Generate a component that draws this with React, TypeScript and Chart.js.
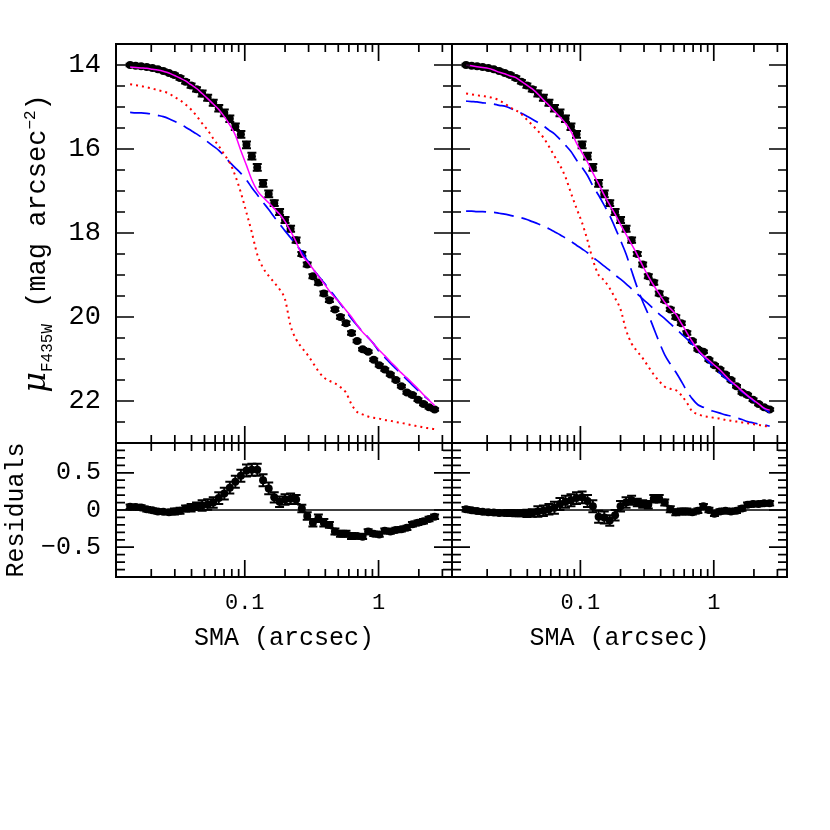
import React, { useEffect, useRef } from 'react';
import { Chart, registerables } from 'chart.js';

Chart.register(...registerables);

// ---------------- data ----------------
const SMA = [
  0.0139, 0.0153, 0.0168, 0.0185, 0.0204, 0.0224, 0.0246, 0.0271, 0.0298, 0.0328,
  0.0361, 0.0397, 0.0436, 0.0480, 0.0528, 0.0581, 0.0639, 0.0703, 0.0773, 0.0850,
  0.0935, 0.103, 0.113, 0.124, 0.137, 0.151, 0.166, 0.182, 0.200, 0.220,
  0.242, 0.267, 0.293, 0.323, 0.355, 0.390, 0.429, 0.472, 0.519, 0.571,
  0.628, 0.691, 0.760, 0.836, 0.920, 1.012, 1.113, 1.224, 1.347, 1.481,
  1.629, 1.792, 1.971, 2.168, 2.385, 2.624,
];

const MU_DATA = [
  14.00, 14.02, 14.03, 14.05, 14.07, 14.10, 14.14, 14.19, 14.24, 14.31,
  14.40, 14.49, 14.58, 14.68, 14.78, 14.90, 15.03, 15.14, 15.28, 15.47,
  15.65, 15.90, 16.17, 16.44, 16.82, 17.07, 17.29, 17.50, 17.69, 17.90,
  18.17, 18.50, 18.75, 19.03, 19.18, 19.44, 19.60, 19.82, 20.00, 20.15,
  20.38, 20.57, 20.77, 20.83, 21.02, 21.15, 21.25, 21.37, 21.50, 21.65,
  21.80, 21.86, 21.97, 22.07, 22.15, 22.20,
];

const MU_ERR = [
  0.03, 0.03, 0.03, 0.03, 0.03, 0.03, 0.03, 0.03, 0.04, 0.04,
  0.04, 0.05, 0.05, 0.07, 0.07, 0.07, 0.08, 0.08, 0.08, 0.08,
  0.08, 0.08, 0.08, 0.08, 0.08, 0.08, 0.07, 0.07, 0.07, 0.07,
  0.06, 0.05, 0.05, 0.05, 0.05, 0.05, 0.04, 0.04, 0.04, 0.04,
  0.04, 0.03, 0.03, 0.03, 0.03, 0.03, 0.03, 0.03, 0.03, 0.03,
  0.03, 0.03, 0.03, 0.03, 0.03, 0.03,
];

// left fit: total (magenta), bulge (red dotted), disk (blue dashed)
const LEFT_TOTAL = [
  14.05, 14.06, 14.07, 14.08, 14.10, 14.12, 14.15, 14.19, 14.25, 14.31,
  14.38, 14.47, 14.56, 14.68, 14.80, 14.93, 15.06, 15.23, 15.43, 15.67,
  16.04, 16.39, 16.74, 16.99, 17.15, 17.28, 17.42, 17.55, 17.73, 17.96,
  18.21, 18.52, 18.68, 18.85, 19.03, 19.20, 19.38, 19.54, 19.67, 19.84,
  20.00, 20.19, 20.36, 20.49, 20.64, 20.79, 20.92, 21.06, 21.19, 21.33,
  21.45, 21.58, 21.71, 21.85, 21.98, 22.11,
];
const LEFT_BULGE = [
  14.46, 14.48, 14.50, 14.53, 14.56, 14.60, 14.63, 14.68, 14.76, 14.84,
  14.94, 15.06, 15.21, 15.39, 15.55, 15.75, 15.93, 16.13, 16.33, 16.64,
  17.04, 17.52, 17.99, 18.51, 18.83, 19.02, 19.18, 19.34, 19.58, 20.21,
  20.53, 20.73, 20.89, 21.09, 21.29, 21.44, 21.52, 21.58, 21.67, 21.80,
  22.08, 22.26, 22.32, 22.37, 22.40, 22.42, 22.45, 22.47, 22.50, 22.52,
  22.55, 22.58, 22.60, 22.63, 22.65, 22.67,
];
const LEFT_DISK = [
  15.13, 15.14, 15.14, 15.15, 15.17, 15.20, 15.23, 15.28, 15.34, 15.41,
  15.48, 15.56, 15.64, 15.73, 15.83, 15.93, 16.03, 16.17, 16.32, 16.45,
  16.58, 16.74, 16.92, 17.09, 17.27, 17.44, 17.62, 17.78, 17.95, 18.11,
  18.28, 18.45, 18.65, 18.85, 19.02, 19.18, 19.35, 19.51, 19.69, 19.86,
  20.04, 20.20, 20.35, 20.49, 20.64, 20.83, 20.96, 21.10, 21.23, 21.36,
  21.49, 21.62, 21.75, 21.87, 21.98, null,
];

// right fit: total (magenta), bulge (red dotted), inner + outer components (blue dashed)
const RIGHT_TOTAL = [
  14.00, 14.02, 14.04, 14.06, 14.08, 14.12, 14.17, 14.21, 14.26, 14.30,
  14.39, 14.48, 14.57, 14.69, 14.83, 14.96, 15.10, 15.24, 15.39, 15.58,
  15.86, 16.09, 16.31, 16.57, 16.83, 17.10, 17.33, 17.55, 17.80, 18.03,
  18.27, 18.52, 18.78, 19.03, 19.25, 19.45, 19.65, 19.80, 19.93, 20.15,
  20.37, 20.59, 20.78, 20.92, 21.03, 21.15, 21.26, 21.40, 21.53, 21.64,
  21.76, 21.87, 21.97, 22.07, 22.17, 22.22,
];
const RIGHT_BULGE = [
  14.68, 14.70, 14.72, 14.74, 14.76, 14.79, 14.84, 14.92, 15.01, 15.08,
  15.17, 15.30, 15.43, 15.57, 15.73, 15.94, 16.17, 16.39, 16.67, 17.05,
  17.41, 17.76, 18.17, 18.64, 19.00, 19.13, 19.32, 19.55, 19.82, 20.31,
  20.63, 20.82, 20.98, 21.18, 21.37, 21.53, 21.66, 21.71, 21.74, 21.86,
  22.04, 22.25, 22.31, 22.36, 22.38, 22.40, 22.42, 22.45, 22.47, 22.49,
  22.51, 22.53, 22.55, 22.57, 22.59, 22.62,
];
const RIGHT_INNER = [
  14.86, 14.87, 14.88, 14.90, 14.91, 14.93, 14.96, 14.98, 15.03, 15.09,
  15.15, 15.22, 15.29, 15.37, 15.45, 15.55, 15.64, 15.77, 15.91, 16.06,
  16.26, 16.44, 16.63, 16.88, 17.10, 17.34, 17.59, 17.87, 18.18, 18.50,
  18.90, 19.30, 19.63, 19.94, 20.27, 20.60, 20.90, 21.12, 21.31, 21.53,
  21.76, 21.95, 22.09, 22.15, 22.21, 22.25, 22.29, 22.33, 22.36, 22.40,
  22.44, 22.49, 22.52, 22.55, 22.57, 22.60,
];
const RIGHT_OUTER = [
  17.48, 17.48, 17.49, 17.49, 17.50, 17.51, 17.53, 17.55, 17.58, 17.61,
  17.64, 17.68, 17.73, 17.78, 17.84, 17.90, 17.97, 18.04, 18.12, 18.20,
  18.29, 18.38, 18.47, 18.58, 18.68, 18.79, 18.89, 19.00, 19.10, 19.21,
  19.33, 19.45, 19.57, 19.69, 19.81, 19.93, 20.04, 20.16, 20.28, 20.40,
  20.52, 20.65, 20.80, 20.94, 21.08, 21.21, 21.34, 21.46, 21.56, 21.67,
  21.78, 21.88, 21.99, 22.09, 22.18, 22.28,
];

const RES_LEFT = [
  0.045, 0.04, 0.035, 0.01, -0.005, -0.02, -0.025, -0.03, -0.02, -0.01,
  0.02, 0.03, 0.05, 0.06, 0.075, 0.10, 0.16, 0.22, 0.30, 0.38,
  0.46, 0.53, 0.54, 0.54, 0.40, 0.29, 0.17, 0.11, 0.14, 0.15,
  0.14, 0.02, -0.08, -0.17, -0.11, -0.17, -0.20, -0.29, -0.32, -0.32,
  -0.35, -0.35, -0.36, -0.29, -0.32, -0.33, -0.28, -0.29, -0.27, -0.26,
  -0.24, -0.19, -0.17, -0.15, -0.12, -0.09,
];
const RES_RIGHT = [
  0.01, -0.005, -0.015, -0.025, -0.03, -0.035, -0.04, -0.04, -0.04, -0.045,
  -0.045, -0.045, -0.04, -0.02, -0.01, 0.01, 0.03, 0.08, 0.11, 0.13,
  0.16, 0.17, 0.12, 0.05, -0.09, -0.10, -0.14, -0.07, 0.05, 0.10,
  0.13, 0.10, 0.08, 0.07, 0.15, 0.15, 0.10, 0.01, -0.03, -0.02,
  -0.02, -0.03, -0.01, 0.05, 0.00, -0.05, -0.02, -0.01, -0.02, -0.01,
  0.02, 0.07, 0.08, 0.08, 0.09, 0.09,
];

// ---------------- axes ----------------
const X_MIN = 0.0109;
const X_MAX = 3.54;
const X_TICKS = [0.1, 1];
const X_MINOR = [0.02, 0.03, 0.04, 0.05, 0.06, 0.07, 0.08, 0.09, 0.2, 0.3, 0.4, 0.5, 0.6, 0.7, 0.8, 0.9, 2, 3];
const MU_MIN = 13.5;
const MU_MAX = 23;
const MU_TICKS = [14, 16, 18, 20, 22];
const MU_MINOR = [14.5, 15, 15.5, 16.5, 17, 17.5, 18.5, 19, 19.5, 20.5, 21, 21.5, 22.5];
const RES_MIN = -0.9;
const RES_MAX = 0.9;
const RES_TICKS = [0.5, 0, -0.5];
const RES_MINOR = [-0.8, -0.7, -0.6, -0.4, -0.3, -0.2, -0.1, 0.1, 0.2, 0.3, 0.4, 0.6, 0.7, 0.8];

const FONT = '"Liberation Mono", "DejaVu Sans Mono", monospace';
const MAGENTA = '#ff00ff';
const RED = '#ff0000';
const BLUE = '#0000ff';

// ---------------- plugins ----------------
const errorBarPlugin = {
  id: 'errorBars',
  beforeDatasetDraw(chart: any, args: any) {
    const ds = chart.data.datasets[args.index];
    if (!ds.errors) return;
    const xs = chart.scales.x;
    const ys = chart.scales.y;
    const a = chart.chartArea;
    const ctx = chart.ctx;
    ctx.save();
    ctx.beginPath();
    ctx.rect(a.left, a.top, a.right - a.left, a.bottom - a.top);
    ctx.clip();
    ctx.strokeStyle = '#000';
    ctx.lineWidth = 2;
    ds.data.forEach((p: any, i: number) => {
      const e = ds.errors[i];
      const px = xs.getPixelForValue(p.x);
      const y1 = ys.getPixelForValue(p.y - e);
      const y2 = ys.getPixelForValue(p.y + e);
      ctx.beginPath();
      ctx.moveTo(px, y1);
      ctx.lineTo(px, y2);
      ctx.moveTo(px - 4.5, y1);
      ctx.lineTo(px + 4.5, y1);
      ctx.moveTo(px - 4.5, y2);
      ctx.lineTo(px + 4.5, y2);
      ctx.stroke();
    });
    ctx.restore();
  },
};

function drawMuTitle(ctx: CanvasRenderingContext2D, cx: number, cy: number) {
  const parts = [
    { t: 'μ', font: 'italic 32px "DejaVu Serif"', dy: 0 },
    { t: 'F435W', font: `16px ${FONT}`, dy: 7 },
    { t: ' (mag arcsec', font: `27px ${FONT}`, dy: 0 },
    { t: '−2', font: `16px ${FONT}`, dy: -10 },
    { t: ')', font: `27px ${FONT}`, dy: 0 },
  ];
  ctx.save();
  ctx.translate(cx, cy);
  ctx.rotate(-Math.PI / 2);
  ctx.fillStyle = '#000';
  ctx.textAlign = 'left';
  ctx.textBaseline = 'alphabetic';
  const widths = parts.map((p) => {
    ctx.font = p.font;
    return ctx.measureText(p.t).width;
  });
  const total = widths.reduce((s, w) => s + w, 0);
  let x = -total / 2;
  parts.forEach((p, i) => {
    ctx.font = p.font;
    ctx.fillText(p.t, x, p.dy);
    x += widths[i];
  });
  ctx.restore();
}

const framePlugin = {
  id: 'frameTicks',
  afterDraw(chart: any, _args: any, opts: any) {
    const { left, right, top, bottom } = chart.chartArea;
    const xs = chart.scales.x;
    const ys = chart.scales.y;
    const ctx = chart.ctx;
    ctx.save();
    ctx.strokeStyle = '#000';
    ctx.lineWidth = 1.7;
    ctx.beginPath();
    const xTick = (v: number, len: number) => {
      const px = xs.getPixelForValue(v);
      ctx.moveTo(px, top);
      ctx.lineTo(px, top + len);
      ctx.moveTo(px, bottom);
      ctx.lineTo(px, bottom - len);
    };
    const yTick = (v: number, len: number) => {
      const py = ys.getPixelForValue(v);
      ctx.moveTo(left, py);
      ctx.lineTo(left + len, py);
      ctx.moveTo(right, py);
      ctx.lineTo(right - len, py);
    };
    X_TICKS.forEach((v) => xTick(v, 17));
    X_MINOR.forEach((v) => xTick(v, 8));
    (opts.yMajor || []).forEach((v: number) => yTick(v, 18));
    (opts.yMinor || []).forEach((v: number) => yTick(v, 9));
    ctx.stroke();
    ctx.lineWidth = 2;
    ctx.strokeRect(left, top, right - left, bottom - top);
    ctx.restore();
    if (opts.muTitle) drawMuTitle(ctx, 45, (top + bottom) / 2);
  },
};

// ---------------- builders ----------------
function pts(ys: (number | null)[]) {
  const out: any[] = [];
  SMA.forEach((x, i) => {
    const y = ys[i];
    if (y !== null && y !== undefined) out.push({ x, y });
  });
  return out;
}

function lineDS(ys: (number | null)[], color: string, dash: number[], width: number) {
  return {
    data: pts(ys),
    showLine: true,
    borderColor: color,
    backgroundColor: color,
    borderWidth: width,
    borderDash: dash,
    pointRadius: 0,
    pointHoverRadius: 0,
    fill: false,
    cubicInterpolationMode: 'monotone',
    order: 0,
  };
}

function dataDS(ys: number[]) {
  return {
    data: pts(ys),
    showLine: false,
    pointRadius: 4,
    pointHoverRadius: 4,
    pointBackgroundColor: '#000',
    pointBorderColor: '#000',
    pointBorderWidth: 0,
    errors: MU_ERR,
    order: 5,
  };
}

function xScale(show: boolean) {
  return {
    type: 'logarithmic',
    min: X_MIN,
    max: X_MAX,
    display: show,
    grid: { display: false, drawTicks: false },
    border: { display: false },
    ticks: {
      font: { family: FONT, size: 22 },
      color: '#000',
      padding: 13,
      autoSkip: false,
      maxRotation: 0,
      minRotation: 0,
      callback: (v: any) => String(v),
    },
    afterBuildTicks: (s: any) => {
      s.ticks = X_TICKS.map((v) => ({ value: v }));
    },
    afterFit: (s: any) => {
      s.height = show ? 80 : 0;
    },
    title: {
      display: show,
      text: 'SMA (arcsec)',
      color: '#000',
      font: { family: FONT, size: 25 },
      padding: { top: 0, bottom: 4 },
    },
  };
}

function muScale(show: boolean) {
  return {
    type: 'linear',
    min: MU_MIN,
    max: MU_MAX,
    reverse: true,
    display: show,
    grid: { display: false, drawTicks: false },
    border: { display: false },
    ticks: {
      font: { family: FONT, size: 27 },
      color: '#000',
      padding: 15,
      autoSkip: false,
      callback: (v: any) => String(v),
    },
    afterBuildTicks: (s: any) => {
      s.ticks = MU_TICKS.map((v) => ({ value: v }));
    },
    afterFit: (s: any) => {
      s.width = show ? 116 : 0;
    },
  };
}

function resScale(show: boolean) {
  return {
    type: 'linear',
    min: RES_MIN,
    max: RES_MAX,
    display: show,
    grid: { display: false, drawTicks: false },
    border: { display: false },
    ticks: {
      font: { family: FONT, size: 25 },
      color: '#000',
      padding: 15,
      autoSkip: false,
      callback: (v: any) => (v < 0 ? '\u2212' + String(Math.abs(v)) : String(v)),
    },
    afterBuildTicks: (s: any) => {
      s.ticks = RES_TICKS.map((v) => ({ value: v }));
    },
    afterFit: (s: any) => {
      s.width = show ? 116 : 0;
    },
    title: {
      display: show,
      text: 'Residuals',
      color: '#000',
      font: { family: FONT, size: 25 },
      padding: { top: 1, bottom: 0 },
    },
  };
}

function zeroLine() {
  return {
    data: [
      { x: X_MIN, y: 0 },
      { x: X_MAX, y: 0 },
    ],
    showLine: true,
    borderColor: '#000',
    borderWidth: 1.6,
    pointRadius: 0,
    pointHoverRadius: 0,
    order: 8,
  };
}

function config(panel: string): any {
  const isLeft = panel === 'TL' || panel === 'BL';
  const isTop = panel === 'TL' || panel === 'TR';
  let datasets: any[];
  if (panel === 'TL') {
    datasets = [
      lineDS(LEFT_TOTAL, MAGENTA, [], 1.5),
      lineDS(LEFT_BULGE, RED, [2, 4], 2),
      lineDS(LEFT_DISK, BLUE, [20, 8], 1.7),
      dataDS(MU_DATA),
    ];
  } else if (panel === 'TR') {
    datasets = [
      lineDS(RIGHT_TOTAL, MAGENTA, [], 1.5),
      lineDS(RIGHT_BULGE, RED, [2, 4], 2),
      lineDS(RIGHT_INNER, BLUE, [20, 8], 1.7),
      lineDS(RIGHT_OUTER, BLUE, [20, 8], 1.7),
      dataDS(MU_DATA),
    ];
  } else if (panel === 'BL') {
    datasets = [zeroLine(), dataDS(RES_LEFT)];
  } else {
    datasets = [zeroLine(), dataDS(RES_RIGHT)];
  }
  const padding = {
    left: isLeft ? 0 : 452,
    right: isLeft ? 378 : 43,
    top: isTop ? 44 : 443,
    bottom: isTop ? 387 : 173,
  };
  return {
    type: 'scatter',
    data: { datasets },
    options: {
      responsive: false,
      animation: false,
      devicePixelRatio: 1,
      events: [],
      layout: { padding },
      scales: {
        x: xScale(!isTop),
        y: isTop ? muScale(isLeft) : resScale(isLeft),
      },
      plugins: {
        legend: { display: false },
        tooltip: { enabled: false },
        frameTicks: {
          yMajor: isTop ? MU_TICKS : RES_TICKS,
          yMinor: isTop ? MU_MINOR : RES_MINOR,
          muTitle: panel === 'TL',
        },
      },
    },
    plugins: [errorBarPlugin, framePlugin],
  };
}

const PANELS = ['TL', 'TR', 'BL', 'BR'];

export default function App() {
  const r0 = useRef<HTMLCanvasElement>(null);
  const r1 = useRef<HTMLCanvasElement>(null);
  const r2 = useRef<HTMLCanvasElement>(null);
  const r3 = useRef<HTMLCanvasElement>(null);
  const refs = [r0, r1, r2, r3];

  useEffect(() => {
    Chart.defaults.font.family = FONT;
    Chart.defaults.color = '#000';
    const charts = PANELS.map((p, i) => new Chart(refs[i].current as HTMLCanvasElement, config(p)));
    return () => charts.forEach((c) => c.destroy());
  }, []);

  return (
    <div style={{ position: 'absolute', left: 0, top: 0, width: 830, height: 830, background: '#fff' }}>
      {refs.map((r, i) => (
        <canvas
          key={PANELS[i]}
          ref={r}
          width={830}
          height={830}
          style={{ position: 'absolute', left: 0, top: 0, width: 830, height: 830 }}
        />
      ))}
    </div>
  );
}
